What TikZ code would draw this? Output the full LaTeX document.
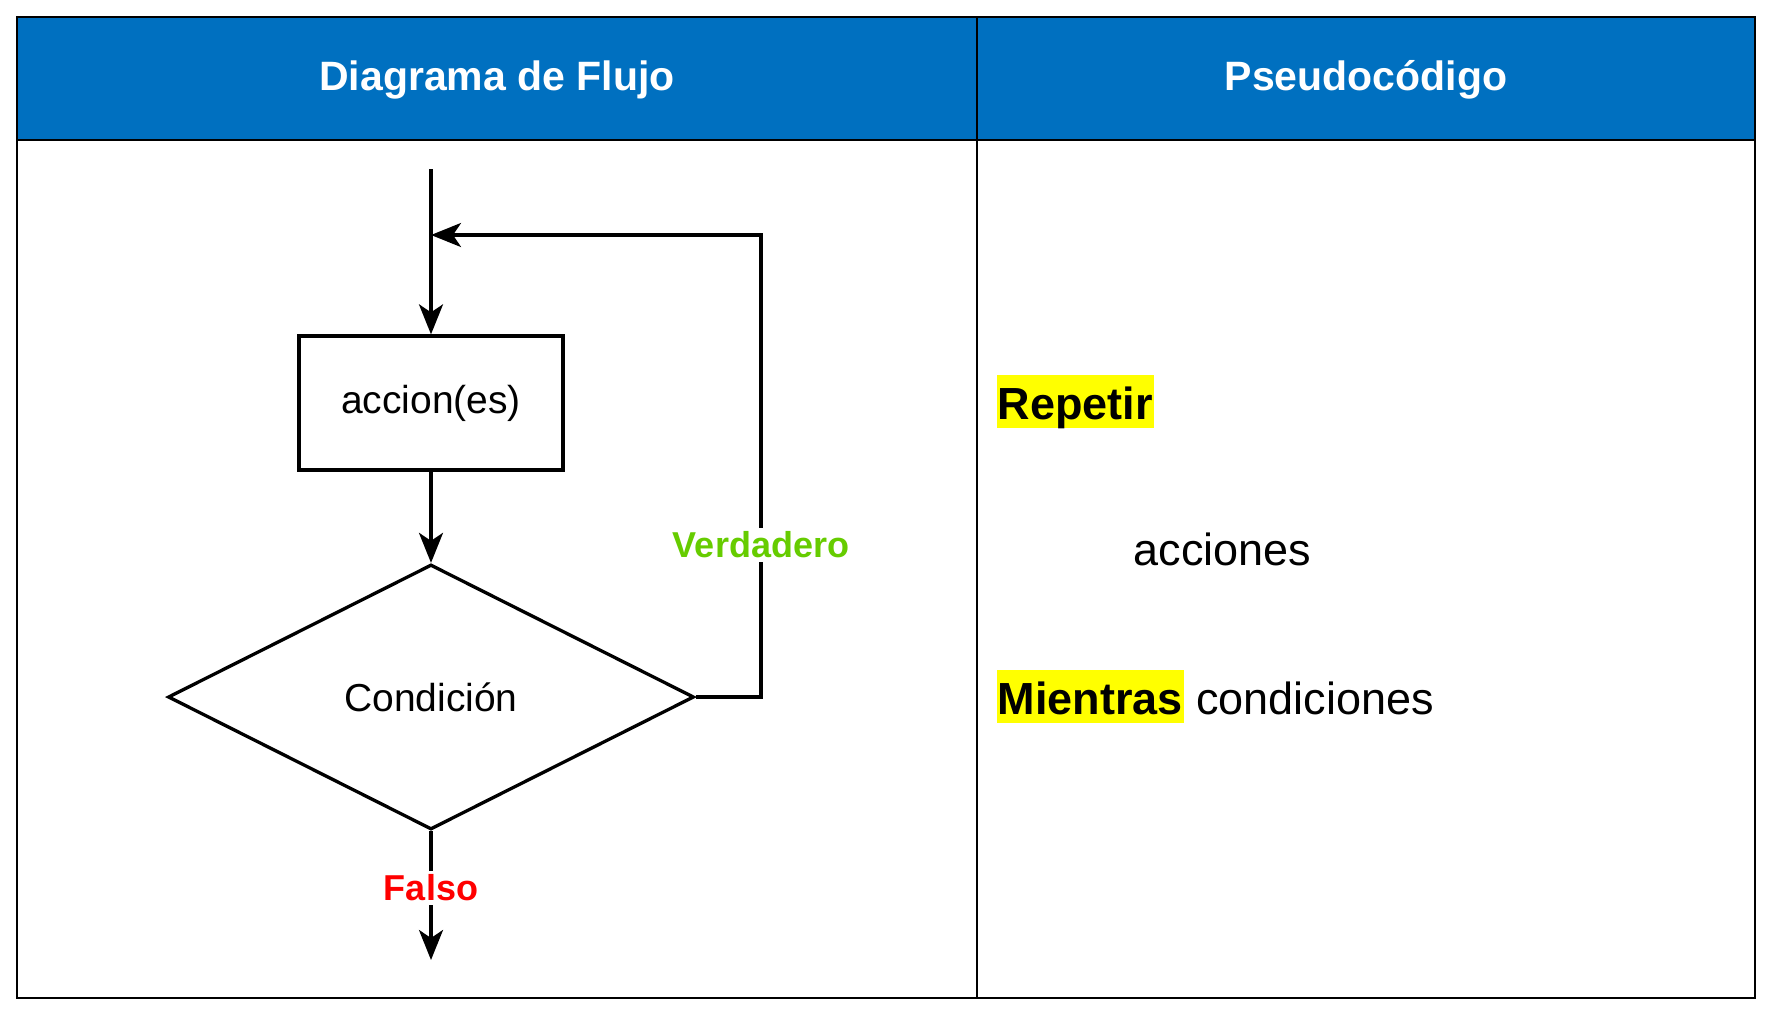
\documentclass[tikz,border=0pt]{standalone}
\usepackage{fontspec}
\setmainfont{Liberation Sans}
\usepackage{xcolor}
\definecolor{headblue}{HTML}{0070C0}
\definecolor{verde}{HTML}{66CC00}
\definecolor{rojo}{HTML}{FF0000}
\definecolor{marca}{HTML}{FFFF00}
\usetikzlibrary{positioning}
\usetikzlibrary{arrows.meta,shapes}

\begin{document}
\begin{tikzpicture}[x=1pt,y=-1pt,line width=3.3pt,>={Stealth[length=30pt,width=24pt,inset=8pt]},
   proc/.style={draw,rectangle,minimum width=264pt,minimum height=134pt,font=\fontsize{39}{44}\selectfont},
   decision/.style={draw,diamond,minimum width=526pt,minimum height=265pt,inner sep=0pt,font=\fontsize{39}{44}\selectfont},
   lbl/.style={fill=white,inner sep=4pt,font=\fontsize{36}{40}\selectfont\bfseries},
   head/.style={text=white,font=\fontsize{41}{46}\selectfont\bfseries},
   hl/.style={fill=marca,inner xsep=1pt,inner ysep=2pt,text height=42pt,text depth=7pt,font=\fontsize{45}{50}\selectfont\bfseries},
   pseudo/.style={inner sep=0pt,font=\fontsize{45}{50}\selectfont}]
   \useasboundingbox (0,0) rectangle (1770,1010);
   % tabla
   \fill[headblue] (17,17) rectangle (1755,140);
   \draw[line width=2.5pt] (17,17) rectangle (1755,998);
   \draw[line width=2.5pt] (17,140) -- (1755,140);
   \draw[line width=2.5pt] (977,17) -- (977,998);
   \node[head] (h1) at (497,80) {Diagrama de Flujo};
   \node[head] (h2) at (1366,80) {Pseudocódigo};
   % diagrama
   \coordinate (ini) at (431,169);
   \coordinate (junta) at (431,235);
   \coordinate (vuelta) at (761,235);
   \coordinate (fin) at (431,960);
   \node[proc] (acc) at (431,403) {accion(es)};
   \node[decision] (cond) at (431,697) {Condición};
   \draw[->] (ini) -- (acc);
   \draw[->] (acc) -- (cond);
   \draw[->] (cond.east) -| (vuelta) -- (junta);
   \draw[->] (cond.south) -- (fin);
   \node[lbl,text=verde] (verd) at (761,545) {Verdadero};
   \node[lbl,text=rojo] (fal) at (431,888) {Falso};
   % pseudocodigo
   \node[hl,anchor=base west] (rep) at (995,419) {Repetir};
   \node[pseudo,anchor=base west] (acs) at (1132,565) {acciones};
   \node[hl,anchor=base west] (mien) at (995,714) {Mientras};
   \node[pseudo] (condic) [right=9pt of mien.base east,anchor=base west] {condiciones};
 \end{tikzpicture}
\end{document}
